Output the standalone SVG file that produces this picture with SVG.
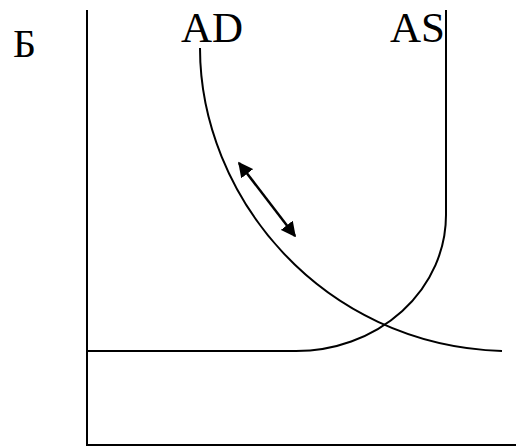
<svg xmlns="http://www.w3.org/2000/svg" width="516" height="448" viewBox="0 0 516 448">
<style>
.ln{fill:none;stroke:#000;stroke-width:2}
.t{font-family:"Liberation Serif","Times New Roman",serif;font-size:43px;fill:#000}
</style>
<defs>
<marker id="ah" viewBox="0 0 10 10" refX="9" refY="5" markerWidth="6" markerHeight="6" orient="auto-start-reverse" markerUnits="strokeWidth">
<path d="M0,0 L10,5 L0,10 z" fill="#000"/>
</marker>
</defs>
<rect width="516" height="448" fill="#fff"/>
<g id="axes">
<path class="ln" d="M87,10 V445 H516"/>
</g>
<g id="labels">
<text class="t" x="13" y="57" style="font-size:40px">Б</text>
<text class="t" x="181" y="42">AD</text>
<text class="t" x="390" y="42">AS</text>
</g>
<g id="connectors">
<path id="AS" class="ln" d="M87,351 H296 A150,136 0 0 0 446,215 V10"/>
<path id="AD" class="ln" d="M200,48 C200,195 320,345 502,351"/>
<line id="shift" x1="239" y1="163" x2="295" y2="236" stroke="#000" stroke-width="2.5" marker-start="url(#ah)" marker-end="url(#ah)"/>
</g>
</svg>
